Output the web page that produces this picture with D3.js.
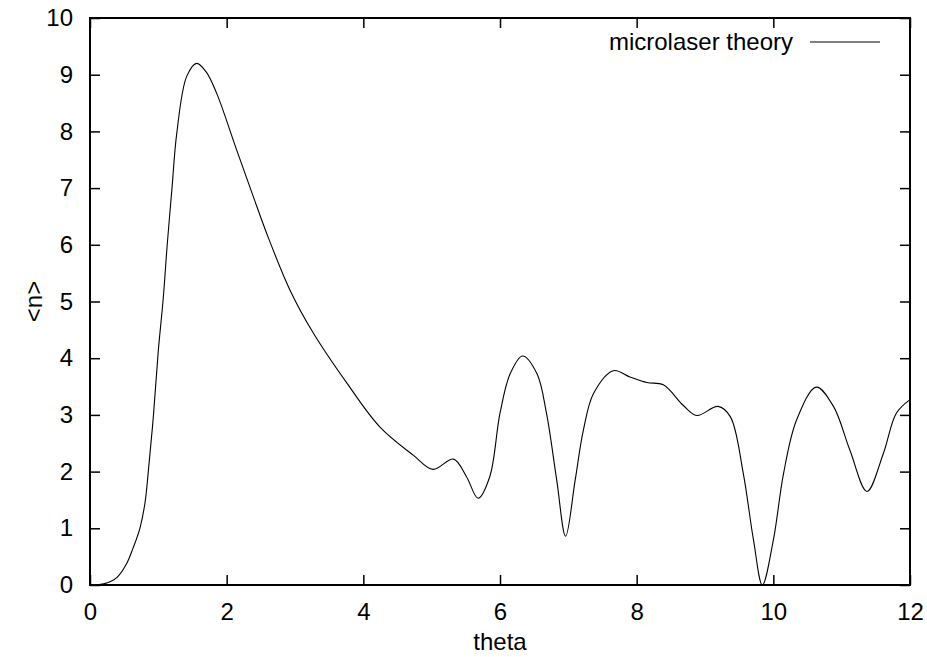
<!DOCTYPE html>
<html>
<head>
<meta charset="utf-8">
<script src="https://cdn.jsdelivr.net/npm/d3@7"></script>
<style>
  body { margin: 0; background: #fff; }
  text { font-family: "Liberation Sans", Arial, sans-serif; }
</style>
</head>
<body>
<div id="chart"></div>
<script>
/* Values */
const theta = [0, 0.1, 0.2, 0.3, 0.4, 0.537, 0.63, 0.73, 0.805, 0.853, 0.927, 1.0, 1.07, 1.13, 1.2, 1.27, 1.415, 1.56, 1.7, 1.854, 2.147, 2.39, 2.586, 2.927, 3.27, 3.76, 4.24, 4.73, 5.02, 5.32, 5.51, 5.68, 5.85, 6.0, 6.15, 6.33, 6.54, 6.68, 6.83, 6.96, 7.1, 7.22, 7.37, 7.66, 7.9, 8.15, 8.39, 8.68, 8.88, 9.19, 9.37, 9.56, 9.71, 9.84, 10.0, 10.15, 10.34, 10.63, 10.88, 11.12, 11.37, 11.61, 11.8, 12.0];
const nMean = [0, 0.003, 0.02, 0.06, 0.14, 0.38, 0.65, 1.0, 1.45, 2.0, 2.97, 4.14, 5.03, 6.0, 7.0, 7.97, 8.97, 9.2, 9.05, 8.67, 7.67, 6.85, 6.2, 5.2, 4.44, 3.56, 2.79, 2.29, 2.04, 2.22, 1.91, 1.53, 1.91, 3.03, 3.73, 4.04, 3.73, 3.03, 1.85, 0.86, 1.85, 2.73, 3.38, 3.78, 3.67, 3.57, 3.53, 3.17, 2.99, 3.15, 2.97, 1.97, 0.79, 0.0, 0.79, 1.97, 2.91, 3.49, 3.15, 2.38, 1.65, 2.32, 3.03, 3.27];
const xTicks = [0, 2, 4, 6, 8, 10, 12];
const yTicks = [0, 1, 2, 3, 4, 5, 6, 7, 8, 9, 10];
const seriesName = "microlaser theory";

const width = 927, height = 657;
const margins = {top: 18, right: 17, bottom: 72, left: 90};

const svg = d3.select("#chart")
  .append("svg")
  .attr("width", width)
  .attr("height", height);

const xScale = d3.scaleLinear()
  .domain([0, 12])
  .range([margins.left, width - margins.right]);

const yScale = d3.scaleLinear()
  .domain([0, 10])
  .range([height - margins.bottom, margins.top]);

const data = theta.map((t, i) => ({x: t, y: nMean[i]}));

/* Curve */
const line = d3.line()
  .x(d => xScale(d.x))
  .y(d => yScale(Math.max(0, d.y)))
  .curve(d3.curveCatmullRom.alpha(0.5));

svg.append("path")
  .datum(data)
  .attr("fill", "none")
  .attr("stroke", "#000")
  .attr("stroke-width", 1.1)
  .attr("d", line);

/* Axes: ticks point inward, mirrored on all sides */
const tickLen = 10;
const fontSize = 24;

const xBottom = svg.append("g")
  .attr("transform", `translate(0,${yScale(0)})`)
  .call(d3.axisBottom(xScale).tickValues(xTicks).tickSizeInner(-tickLen).tickSizeOuter(0).tickPadding(18));
const xTop = svg.append("g")
  .attr("transform", `translate(0,${yScale(10)})`)
  .call(d3.axisTop(xScale).tickValues(xTicks).tickSizeInner(-tickLen).tickSizeOuter(0).tickFormat(""));
const yLeft = svg.append("g")
  .attr("transform", `translate(${xScale(0)},0)`)
  .call(d3.axisLeft(yScale).tickValues(yTicks).tickSizeInner(-tickLen).tickSizeOuter(0).tickPadding(17));
const yRight = svg.append("g")
  .attr("transform", `translate(${xScale(12)},0)`)
  .call(d3.axisRight(yScale).tickValues(yTicks).tickSizeInner(-tickLen).tickSizeOuter(0).tickFormat(""));

[xBottom, xTop, yLeft, yRight].forEach(g => {
  g.select(".domain").remove();
  g.selectAll("line").attr("stroke", "#000").attr("stroke-width", 1.5);
  g.selectAll("text")
    .style("font-size", fontSize + "px")
    .style("font-family", "'Liberation Sans', Arial, sans-serif")
    .attr("fill", "#000");
});

/* Frame */
svg.append("rect")
  .attr("x", xScale(0))
  .attr("y", yScale(10))
  .attr("width", xScale(12) - xScale(0))
  .attr("height", yScale(0) - yScale(10))
  .attr("fill", "none")
  .attr("stroke", "#000")
  .attr("stroke-width", 2);

/* Axis labels */
svg.append("text")
  .attr("x", (xScale(0) + xScale(12)) / 2)
  .attr("y", 650)
  .attr("text-anchor", "middle")
  .style("font-size", fontSize + "px")
  .text("theta");

svg.append("text")
  .attr("transform", `translate(42,${(yScale(0) + yScale(10)) / 2}) rotate(-90)`)
  .attr("text-anchor", "middle")
  .style("font-size", fontSize + "px")
  .text("<n>");

/* Legend */
svg.append("text")
  .attr("x", 793)
  .attr("y", 50)
  .attr("text-anchor", "end")
  .style("font-size", fontSize + "px")
  .text(seriesName);

svg.append("line")
  .attr("x1", 810).attr("x2", 880)
  .attr("y1", 42).attr("y2", 42)
  .attr("stroke", "#000")
  .attr("stroke-width", 1.2);
</script>
</body>
</html>
